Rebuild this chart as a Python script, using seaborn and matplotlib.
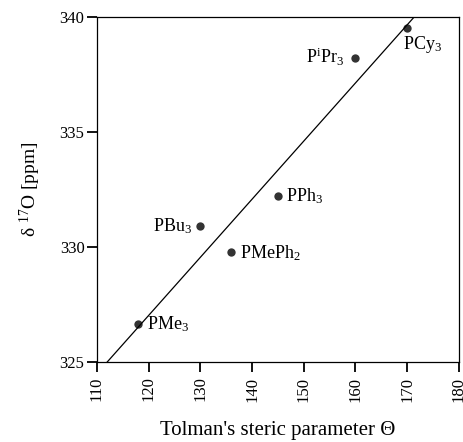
import numpy as np
import pandas as pd
import matplotlib
matplotlib.use("Agg")
import matplotlib.pyplot as plt
import seaborn as sns

# data
ligands = ["PMe$_3$", "PBu$_3$", "PMePh$_2$", "PPh$_3$", "P$^{i}$Pr$_3$", "PCy$_3$"]
tolman = [118, 130, 136, 145, 160, 170]
shift = [326.65, 330.9, 329.8, 332.2, 338.2, 339.5]

# label offsets (points) and alignment
offsets = [(6, 0), (-6, 0), (6, -1), (6, 0), (-8, 1), (-3, -12)]
aligns = ["left", "right", "left", "left", "right", "left"]

sns.set_style("ticks")
plt.rcParams["font.family"] = ["Liberation Serif", "DejaVu Serif"]
plt.rcParams["mathtext.fontset"] = "stix"
plt.rcParams["mathtext.default"] = "regular"
plt.rcParams["text.color"] = "black"
plt.rcParams["axes.labelcolor"] = "black"
plt.rcParams["xtick.color"] = "black"
plt.rcParams["ytick.color"] = "black"
plt.rcParams["axes.edgecolor"] = "black"

df = pd.DataFrame({"theta": tolman, "shift": shift})

fig = plt.figure(figsize=(4.64, 4.42), dpi=100)
ax = fig.add_axes([0.209, 0.181, 0.780, 0.781])
ax.set_xlim(110, 180)
ax.set_ylim(325, 340)

sns.regplot(
    data=df, x="theta", y="shift", ax=ax, ci=None, truncate=False,
    scatter_kws={"s": 36, "color": "black", "zorder": 3, "linewidths": 0},
    line_kws={"color": "black", "lw": 0.9},
)

for name, x, y, off, ha in zip(ligands, tolman, shift, offsets, aligns):
    ax.annotate(name, (x, y), xytext=off, textcoords="offset points",
                ha=ha, va="center", fontsize=13)

ax.set_xticks(np.arange(110, 181, 10))
ax.set_yticks([325, 330, 335, 340])
ax.tick_params(axis="x", labelrotation=90, labelsize=12, length=7, width=1.3, direction="out")
ax.tick_params(axis="y", labelsize=12, length=7, width=1.3, direction="out", pad=2)
for sp in ax.spines.values():
    sp.set_linewidth(0.9)
    sp.set_visible(True)

ax.set_xlabel("Tolman's steric parameter Θ", fontsize=15, labelpad=14)
ax.set_ylabel("δ $^{17}$O [ppm]", fontsize=14, labelpad=12)

fig.savefig("out.png", dpi=100)
